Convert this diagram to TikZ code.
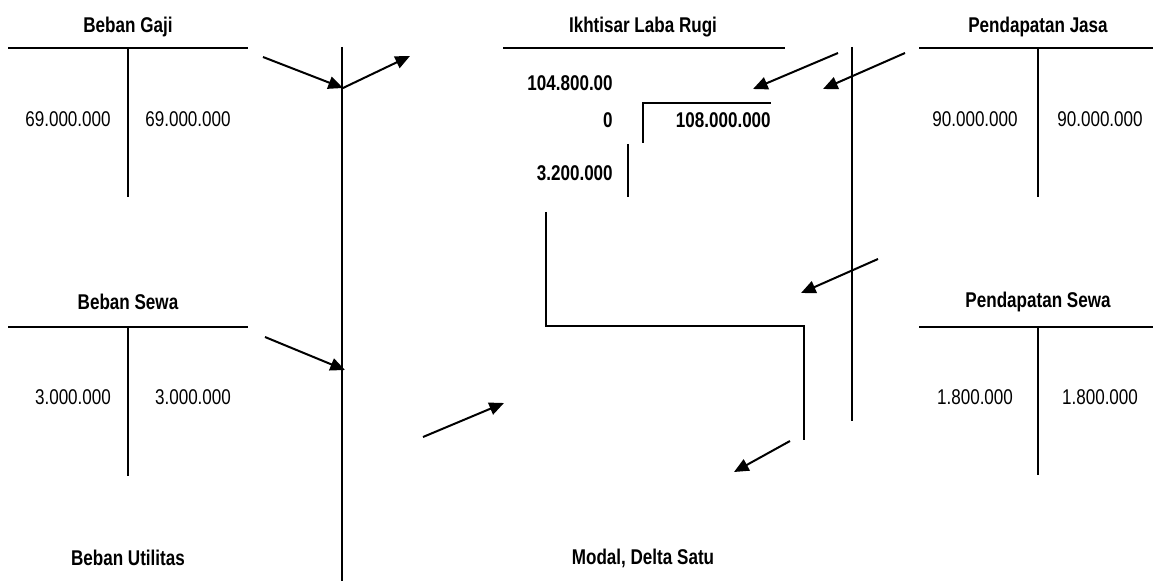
\documentclass[tikz,border=0pt]{standalone}
\usepackage{fontspec}
\setmainfont{Liberation Sans}[FakeStretch=0.8]
\usetikzlibrary{arrows.meta}
\tikzset{
  tline/.style={line width=1.5pt},
  thin line/.style={line width=1.2pt},
  arr/.style={line width=1.5pt,-{Triangle[length=11pt,width=9.5pt]}},
  ttl/.style={font=\fontsize{16pt}{19pt}\selectfont\bfseries,inner sep=0pt},
  num/.style={font=\fontsize{16pt}{19pt}\selectfont,inner sep=0pt},
  bnum/.style={font=\fontsize{16pt}{19pt}\selectfont\bfseries,inner sep=0pt}
}
\begin{document}
\begin{tikzpicture}[x=0.75pt,y=-0.75pt]
\useasboundingbox (0,0) rectangle (1153,581);
% Beban Gaji
\node[ttl] (bg) at (128,27) {Beban Gaji};
\draw[tline] (8,48) -- (248,48);
\draw[tline] (128,48) -- (128,197);
\node[num] (bgl) at (68,119) {69.000.000};
\node[num] (bgr) at (188,119) {69.000.000};
% Beban Sewa
\node[ttl] (bs) at (128,302) {Beban Sewa};
\draw[tline] (8,327) -- (248,327);
\draw[tline] (128,327) -- (128,476);
\node[num] (bsl) at (73,397) {3.000.000};
\node[num] (bsr) at (193,397) {3.000.000};
% Beban Utilitas
\node[ttl] (bu) at (128,558) {Beban Utilitas};
% long vertical
\draw[tline] (342,47) -- (342,581);
% Ikhtisar Laba Rugi
\node[ttl] (ilr) at (643,27) {Ikhtisar Laba Rugi};
\draw[tline] (503,48) -- (785,48);
\node[bnum,anchor=east] (n1) at (613,83) {104.800.00};
\node[bnum,anchor=east] (n2) at (613,120) {0};
\node[bnum,anchor=east] (n3) at (613,173) {3.200.000};
\node[bnum,anchor=east] (n4) at (771,120) {108.000.000};
\draw[thin line] (643,143) -- (643,103) -- (771,103);
\draw[thin line] (628,144) -- (628,197);
\draw[line width=1pt] (546,212) -- (546,326) -- (804,326) -- (804,440);
% vertical right
\draw[tline] (852,47) -- (852,421);
% Pendapatan Jasa
\node[ttl] (pj) at (1038,27) {Pendapatan Jasa};
\draw[tline] (919,48) -- (1153,48);
\draw[tline] (1038,48) -- (1038,197);
\node[num] (pjl) at (975,119) {90.000.000};
\node[num] (pjr) at (1100,119) {90.000.000};
% Pendapatan Sewa
\node[ttl] (ps) at (1038,302) {Pendapatan Sewa};
\draw[tline] (919,327) -- (1153,327);
\draw[tline] (1038,327) -- (1038,475);
\node[num] (psl) at (975,397) {1.800.000};
\node[num] (psr) at (1100,397) {1.800.000};
% Modal
\node[ttl] (md) at (643,558) {Modal, Delta Satu};
% arrow coordinates
\coordinate (a1s) at (263,57);
\coordinate (a1e) at (343,88);
\coordinate (a2e) at (410,56);
\coordinate (a3s) at (838,53);
\coordinate (a3e) at (753,89);
\coordinate (a4s) at (905,53);
\coordinate (a4e) at (823,89);
\coordinate (a5s) at (878,259);
\coordinate (a5e) at (801,293);
\coordinate (a6s) at (265,337);
\coordinate (a6e) at (345,370);
\coordinate (a7s) at (423,437);
\coordinate (a7e) at (504,403);
\coordinate (a8s) at (790,441);
\coordinate (a8e) at (734,472);
\draw[arr] (a1s) -- (a1e);
\draw[arr] (a1e) -- (a2e);
\draw[arr] (a3s) -- (a3e);
\draw[arr] (a4s) -- (a4e);
\draw[arr] (a5s) -- (a5e);
\draw[arr] (a6s) -- (a6e);
\draw[arr] (a7s) -- (a7e);
\draw[arr] (a8s) -- (a8e);
\end{tikzpicture}
\end{document}
